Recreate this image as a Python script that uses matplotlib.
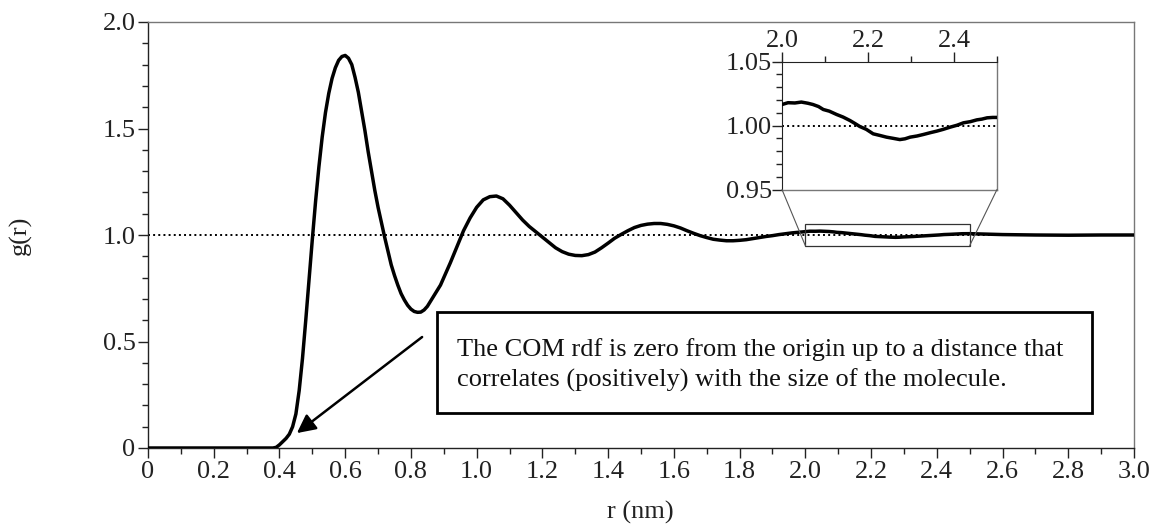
import matplotlib
matplotlib.use("Agg")
import matplotlib.pyplot as plt
from matplotlib.patches import Rectangle, ConnectionPatch
from matplotlib.ticker import MultipleLocator

plt.rcParams['font.family'] = ['Liberation Serif', 'DejaVu Serif']

# ---- data ----
r_main = [0.0, 0.38, 0.39, 0.40, 0.41, 0.42, 0.43, 0.44, 0.45, 0.46, 0.47, 0.48, 0.49,
          0.50, 0.51, 0.52, 0.53, 0.54, 0.55, 0.56, 0.57, 0.58, 0.59, 0.60, 0.61, 0.62,
          0.63, 0.64, 0.65, 0.66, 0.67, 0.68, 0.69, 0.70, 0.71, 0.72, 0.73, 0.74, 0.75,
          0.76, 0.77, 0.78, 0.79, 0.80, 0.81, 0.82, 0.83, 0.84, 0.85, 0.86, 0.87, 0.88,
          0.89, 0.90, 0.92, 0.94, 0.96, 0.98, 1.00, 1.02, 1.04, 1.06, 1.08, 1.10, 1.12,
          1.14, 1.16, 1.18, 1.20, 1.22, 1.24, 1.26, 1.28, 1.30, 1.32, 1.34, 1.36, 1.38,
          1.40, 1.42, 1.44, 1.46, 1.48, 1.50, 1.52, 1.54, 1.56, 1.58, 1.60, 1.62, 1.64,
          1.66, 1.68, 1.70, 1.72, 1.74, 1.76, 1.78, 1.80, 1.82, 1.84, 1.86, 1.88, 1.90,
          1.92, 1.94, 1.96, 1.98]
g_main = [0.0, 0.0, 0.003, 0.015, 0.03, 0.045, 0.065, 0.10, 0.16, 0.27, 0.42, 0.60, 0.79,
          0.98, 1.16, 1.32, 1.46, 1.575, 1.665, 1.735, 1.785, 1.82, 1.838, 1.843, 1.83, 1.80,
          1.74, 1.67, 1.58, 1.49, 1.39, 1.30, 1.21, 1.13, 1.06, 0.99, 0.925, 0.86, 0.81,
          0.765, 0.725, 0.695, 0.67, 0.652, 0.641, 0.637, 0.638, 0.648, 0.665, 0.69, 0.715, 0.74,
          0.765, 0.80, 0.87, 0.945, 1.02, 1.08, 1.13, 1.165, 1.18, 1.183, 1.17, 1.14, 1.105,
          1.07, 1.04, 1.015, 0.99, 0.965, 0.94, 0.922, 0.91, 0.904, 0.903, 0.908, 0.92, 0.94,
          0.962, 0.985, 1.003, 1.02, 1.035, 1.045, 1.051, 1.054, 1.054, 1.05, 1.043, 1.033, 1.02,
          1.008, 0.997, 0.988, 0.98, 0.976, 0.973, 0.973, 0.975, 0.978, 0.983, 0.988, 0.993, 0.997,
          1.002, 1.006, 1.010, 1.013]
r_zoom = [2.000, 2.014, 2.030, 2.045, 2.060, 2.072, 2.085, 2.096, 2.110, 2.127, 2.142,
          2.158, 2.170, 2.181, 2.196, 2.212, 2.228, 2.243, 2.258, 2.274, 2.286, 2.298,
          2.314, 2.329, 2.345, 2.360, 2.375, 2.391, 2.407, 2.422, 2.438, 2.453, 2.465,
          2.477, 2.490, 2.500]
g_zoom = [1.0164, 1.0178, 1.0176, 1.0183, 1.0174, 1.0164, 1.0148, 1.0125, 1.0112, 1.0086, 1.0066,
          1.0039, 1.0015, 0.9992, 0.9970, 0.9935, 0.9922, 0.9909, 0.9900, 0.9890, 0.9896, 0.9909,
          0.9918, 0.9930, 0.9944, 0.9956, 0.9970, 0.9987, 1.0002, 1.0021, 1.0030, 1.0044, 1.0050,
          1.0060, 1.0063, 1.0063]
r_tail = [2.55, 2.60, 2.70, 2.80, 2.90, 3.00]
g_tail = [1.004, 1.002, 1.000, 0.999, 1.000, 1.000]

r_all = r_main + r_zoom + r_tail
g_all = g_main + g_zoom + g_tail

x_ticks = [0, 0.2, 0.4, 0.6, 0.8, 1.0, 1.2, 1.4, 1.6, 1.8, 2.0, 2.2, 2.4, 2.6, 2.8, 3.0]
x_labels = ['0', '0.2', '0.4', '0.6', '0.8', '1.0', '1.2', '1.4', '1.6', '1.8',
            '2.0', '2.2', '2.4', '2.6', '2.8', '3.0']
y_ticks = [0, 0.5, 1.0, 1.5, 2.0]
y_labels = ['0', '0.5', '1.0', '1.5', '2.0']
inset_x_ticks = [2.0, 2.2, 2.4]
inset_x_labels = ['2.0', '2.2', '2.4']
inset_y_ticks = [0.95, 1.00, 1.05]
inset_y_labels = ['0.95', '1.00', '1.05']
note_lines = ["The COM rdf is zero from the origin up to a distance that",
              "correlates (positively) with the size of the molecule."]

FS = 19
W, H = 1155, 524
fig = plt.figure(figsize=(W / 100, H / 100), dpi=100)

def fx(px):
    return px / W

def fy(py):
    return 1 - py / H

ax = fig.add_axes([fx(148), fy(448), fx(1134) - fx(148), fy(22) - fy(448)])
ax.plot(r_all, g_all, color='black', lw=2.5, zorder=3)
ax.axhline(1.0, color='black', ls=':', lw=1.4, zorder=2)
ax.set_xlim(0, 3.0)
ax.set_ylim(0, 2.0)
ax.set_xticks(x_ticks)
ax.set_xticklabels(x_labels)
ax.set_yticks(y_ticks)
ax.set_yticklabels(y_labels)
ax.xaxis.set_minor_locator(MultipleLocator(0.1))
ax.yaxis.set_minor_locator(MultipleLocator(0.1))
ax.tick_params(which='both', direction='out', colors='#222222', labelsize=FS, width=1.0,
               top=False, right=False, labelcolor='#222222')
ax.tick_params(which='major', length=7, pad=2)
ax.tick_params(which='minor', length=4)
for s in ['top', 'right']:
    ax.spines[s].set_color('#777777')
    ax.spines[s].set_linewidth(1.0)
for s in ['left', 'bottom']:
    ax.spines[s].set_color('#222222')
    ax.spines[s].set_linewidth(1.0)

fig.text(fx(20), fy(235), 'g(r)', rotation=90, ha='center', va='center', fontsize=FS,
         color='#222222')
fig.text(fx(640), fy(512), 'r (nm)', ha='center', va='center', fontsize=FS, color='#222222')

# zoom rectangle in main axes
ax.add_patch(Rectangle((2.0, 0.95), 0.5, 0.10, fill=False, edgecolor='#333333', lw=0.9,
                       zorder=4))

# inset
axin = fig.add_axes([fx(782), fy(189.5), fx(997) - fx(782), fy(61.5) - fy(189.5)])
axin.plot(r_zoom, g_zoom, color='black', lw=2.5, zorder=3)
axin.axhline(1.0, color='black', ls=':', lw=1.4, zorder=2)
axin.set_xlim(2.0, 2.5)
axin.set_ylim(0.95, 1.05)
axin.xaxis.tick_top()
axin.set_xticks(inset_x_ticks)
axin.set_xticklabels(inset_x_labels)
axin.set_yticks(inset_y_ticks)
axin.set_yticklabels(inset_y_labels)
axin.xaxis.set_minor_locator(MultipleLocator(0.1))
axin.yaxis.set_minor_locator(MultipleLocator(0.01))
axin.tick_params(which='both', direction='out', colors='#222222', labelsize=FS, width=1.0,
                 labelcolor='#222222')
axin.tick_params(which='major', length=7, pad=0)
axin.tick_params(which='minor', length=4)
axin.tick_params(axis='x', which='both', bottom=False, labelbottom=False, top=True, labeltop=True)
for s in ['bottom', 'right']:
    axin.spines[s].set_color('#777777')
    axin.spines[s].set_linewidth(1.0)
for s in ['left', 'top']:
    axin.spines[s].set_color('#222222')

# connector lines from inset bottom corners to rectangle bottom corners
for xa in [2.0, 2.5]:
    con = ConnectionPatch(xyA=(xa, 0.95), coordsA=axin.transData,
                          xyB=(xa, 0.95), coordsB=ax.transData,
                          color='#555555', lw=0.8)
    fig.add_artist(con)

# annotation box
fig.patches.append(Rectangle((fx(437), fy(413)), fx(1092) - fx(437), fy(312) - fy(413),
                             transform=fig.transFigure, fill=False, edgecolor='black', lw=2.0,
                             figure=fig))
fig.text(fx(457), fy(350), note_lines[0], ha='left', va='center', fontsize=FS, color='#111111')
fig.text(fx(457), fy(380), note_lines[1], ha='left', va='center', fontsize=FS, color='#111111')

ax.annotate('', xy=(0.453, 0.07), xytext=(0.834, 0.521),
            arrowprops=dict(arrowstyle='-|>', mutation_scale=28, lw=1.8, color='black',
                            shrinkA=0, shrinkB=0), zorder=5)

fig.savefig('out.png', dpi=100)
